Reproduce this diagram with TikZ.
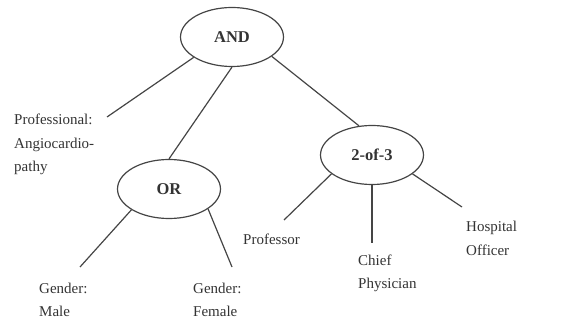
\documentclass[tikz,border=0pt]{standalone}
\usepackage{fontspec}
\setmainfont{Liberation Serif}
\usetikzlibrary{shapes.geometric}
\definecolor{inkgray}{HTML}{333333}
\definecolor{linegray}{HTML}{454545}
\begin{document}
\begin{tikzpicture}[x=1pt,y=-1pt,
  gate/.style={ellipse,draw=linegray,line width=1.2pt,minimum width=103pt,minimum height=59pt,
    inner sep=0pt,text=inkgray,font=\fontsize{16.5}{18}\selectfont\bfseries},
  leaf/.style={anchor=west,inner sep=0pt,align=left,text=inkgray,
    font=\fontsize{15}{23.5}\selectfont},
  edge/.style={draw=linegray,line width=1.2pt}]
\useasboundingbox (0,0) rectangle (586,320);

% gates
\node[gate] (and) at (232,37) {AND};
\node[gate] (or) at (169,189) {OR};
\node[gate] (two) at (372,155) {2-of-3};

% leaf labels
\node[leaf] (prof) at (14,144.5) {Professional:\\Angiocardio-\\pathy};
\node[leaf] (male) at (39,300) {Gender:\\Male};
\node[leaf] (female) at (193,300) {Gender:\\Female};
\node[leaf] (profr) at (243,239) {Professor};
\node[leaf] (chief) at (358,273.5) {Chief\\Physician};
\node[leaf] (hosp) at (466,238.5) {Hospital\\Officer};

% free ends of the branches
\coordinate (eprof) at (107,117);
\coordinate (emale) at (80,267);
\coordinate (efemale) at (232,267);
\coordinate (eprofr) at (284,220);
\coordinate (echief) at (372,243);
\coordinate (ehosp) at (462,207);

% branches
\draw[edge] (and.208) -- (eprof);
\draw[edge] (and.south) -- (or.north);
\draw[edge] (and.-26) -- (two.114);
\draw[edge] (or.209) -- (emale);
\draw[edge] (or.-27) -- (efemale);
\draw[edge] (two.205) -- (eprofr);
\draw[edge] (two.south) -- (echief);
\draw[edge] (two.-25) -- (ehosp);
\end{tikzpicture}
\end{document}
